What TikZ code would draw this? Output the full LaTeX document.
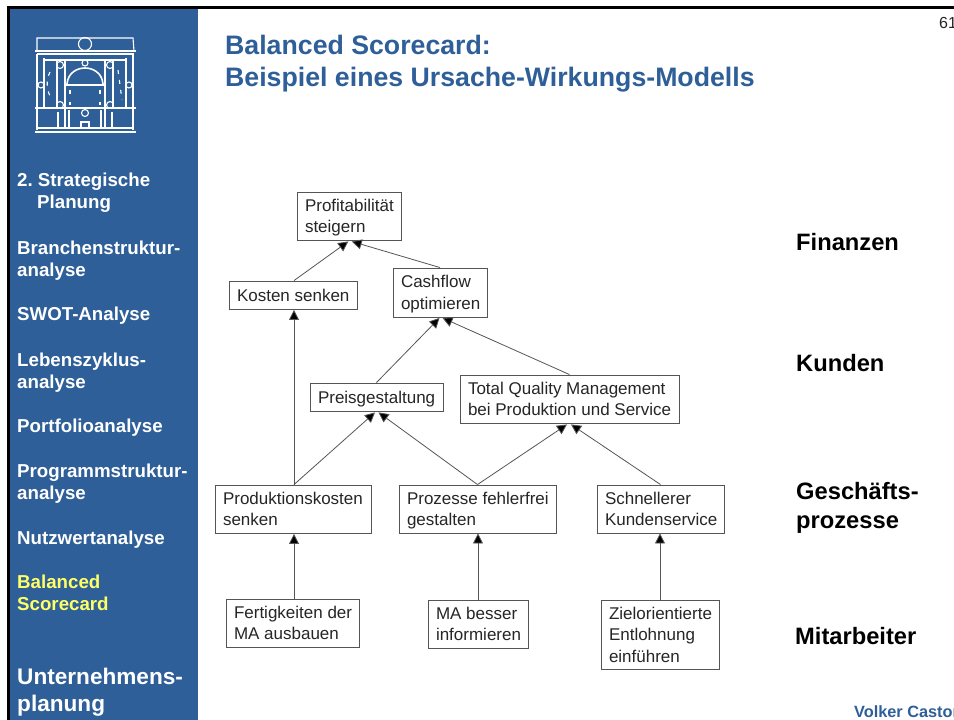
\documentclass[tikz,border=0pt]{standalone}
\usepackage{fontspec}
\setmainfont{Liberation Sans}
\usetikzlibrary{arrows.meta,calc}
\frenchspacing
\definecolor{sidebar}{HTML}{2E5F98}
\definecolor{titleblue}{HTML}{2E5F98}
\definecolor{edgegray}{HTML}{555555}
\newcommand{\bx}[7]{\node[boxnode,minimum width=#4*1pt,minimum height=#5*1pt] (#1) at ({#2+#4/2},{#3+#5/2}) {\makebox[\dimexpr#4pt-2\dimexpr#6pt\relax\relax][l]{\raisebox{-1.7pt}[\height][\depth]{\begin{tabular}{@{}l@{}}#7\end{tabular}}}};}
\tikzset{
  boxnode/.style={draw=edgegray,line width=0.9pt,fill=white,inner xsep=0pt,inner ysep=0pt,font=\fontsize{17}{21.5}\selectfont,text=black!85},
  conn/.style={draw=edgegray,line width=0.8pt,-{Triangle[length=10pt,width=10pt,fill=black]}},
  sidetext/.style={anchor=west,align=left,text=white,text depth=0pt,font=\fontsize{18.7}{22}\selectfont\bfseries,inner sep=0pt},
  catlabel/.style={anchor=west,align=left,text=black,font=\fontsize{23.7}{29}\selectfont\bfseries,inner sep=0pt},
  logoline/.style={draw=white,line width=1.1pt},
  logothick/.style={draw=white,line width=1.6pt},
}
\begin{document}
\begin{tikzpicture}[x=1pt,y=-1pt]
\useasboundingbox (0,0) rectangle (954,720);
\fill[white] (0,0) rectangle (954,720);
\fill[sidebar] (8,8) rectangle (198,720);
\fill[black] (7,6) rectangle (954,8.5);
\fill[black] (7,6) rectangle (9.5,720);
% logo
\draw[logoline] (37,38) -- (133,38) -- (134,51) -- (37,51) -- cycle;
\draw[logothick] (35,51) -- (136,51) (37,54) -- (134,54);
\draw[logoline] (85,44) circle (6.5);
\draw[logoline] (37,54) -- (37,108) (44,58) -- (44,108) (126,58) -- (126,108) (133,54) -- (133,108);
\draw[logoline] (44,60) -- (126,60);
\draw[logothick] (65,60) -- (65,129) (105,60) -- (105,129);
\draw[logoline] (57,60) -- (57,108) (113,60) -- (113,108);
\draw[logothick] (67,84) .. controls (68,72) and (78,68) .. (85,68) .. controls (92,68) and (102,72) .. (103,84);
\draw[logothick] (66,85) -- (104,85);
\draw[logoline] (60,65) circle (3.5) (110,65) circle (3.5) (60,105) circle (3.5) (110,105) circle (3.5) (85,63) circle (3) (41,85) circle (3) (129,85) circle (3);
\draw[logothick] (35,108) -- (136,108);
\draw[logoline] (37,108) -- (37,130) (133,108) -- (133,130) (58,112) -- (58,129) (112,112) -- (112,129) (69,110) -- (69,129) (101,110) -- (101,129);
\draw[logoline] (85,113) circle (3.5);
\draw[logoline] (81,129) -- (81,122) -- (89,122) -- (89,129);
\draw[logothick] (35,132) -- (136,132);
\draw[logoline] (37,128) -- (133,128);
\draw[logoline,dash pattern=on 4pt off 6pt] (50,72) .. controls (46,80) and (46,90) .. (52,100);
\draw[logoline,dash pattern=on 4pt off 6pt] (118,70) -- (122,100);
\draw[logoline,dash pattern=on 4pt off 8pt] (70,90) -- (70,105) (100,90) -- (100,105);
% sidebar text
\node[sidetext] (s1) at (17,191) {2. Strategische\\\hspace*{20pt}Planung};
\node[sidetext] (s2) at (17,259) {Branchenstruktur-\\analyse};
\node[sidetext] (s3) at (17,314) {SWOT-Analyse};
\node[sidetext] (s4) at (17,371) {Lebenszyklus-\\analyse};
\node[sidetext] (s5) at (17,426) {Portfolioanalyse};
\node[sidetext] (s6) at (17,482) {Programmstruktur-\\analyse};
\node[sidetext] (s7) at (17,538) {Nutzwertanalyse};
\node[sidetext,text={rgb,255:red,255;green,255;blue,102}] (s8) at (17,593) {Balanced\\Scorecard};
\node[sidetext,font=\fontsize{22.6}{27}\selectfont\bfseries] (s9) at (17,689.5) {Unternehmens-\\planung};
% title
\node[anchor=west,align=left,inner sep=0pt,text depth=0pt,text=titleblue,font=\fontsize{26.7}{32}\selectfont\bfseries] (title) at (225,61) {Balanced Scorecard:\\Beispiel eines Ursache-Wirkungs-Modells};
\node[anchor=west,inner sep=0pt,font=\fontsize{16}{18}\selectfont,text=black!85] (page) at (939,23) {61};
\node[anchor=west,inner sep=0pt,text=titleblue,font=\fontsize{16.3}{18}\selectfont\bfseries] (author) at (854,712) {Volker Castor};
% boxes
\bx{profit}{297}{192}{104}{48}{8}{Profitabilität\\steigern}
\bx{kosten}{229}{281}{128}{28}{8}{Kosten senken}
\bx{cash}{393}{268}{94}{49}{8}{Cashflow\\optimieren}
\bx{preis}{310}{383}{133}{28}{8}{Preisgestaltung}
\bx{tqm}{460}{375}{219}{48}{8}{Total Quality Management\\bei Produktion und Service}
\bx{prod}{215}{485}{156}{48}{8}{Produktionskosten\\senken}
\bx{proz}{399}{485}{157}{48}{8}{Prozesse fehlerfrei\\gestalten}
\bx{schnell}{597}{485}{127}{48}{8}{Schnellerer\\Kundenservice}
\bx{fert}{226}{599}{133}{48}{8}{Fertigkeiten der\\MA ausbauen}
\bx{ma}{428}{600}{100}{48}{8}{MA besser\\informieren}
\bx{ziel}{601}{600}{118}{69}{8}{Zielorientierte\\Entlohnung\\einführen}
% categories
\node[catlabel] (c1) at (796,242) {Finanzen};
\node[catlabel] (c2) at (796,363) {Kunden};
\node[catlabel] (c3) at (796,507.5) {Geschäfts-\\prozesse};
\node[catlabel] (c4) at (795,636) {Mitarbeiter};
% connectors
\draw[conn] ($(kosten.north)+(1,0)$) -- ($(profit.south)+(-0.7,1)$);
\draw[conn] (cash.north) -- ($(profit.south)+(2.7,1)$);
\draw[conn] ($(prod.north)+(1,0)$) -- ($(kosten.south)+(1,0.5)$);
\draw[conn] (preis.north) -- ($(cash.south)+(-0.5,0.5)$);
\draw[conn] (tqm.north) -- ($(cash.south)+(2.5,0.5)$);
\draw[conn] ($(prod.north)+(1,0)$) -- ($(preis.south)+(-1.5,1)$);
\draw[conn] (proz.north) -- ($(preis.south)+(2,1)$);
\draw[conn] (proz.north) -- ($(tqm.south)+(-2.5,1)$);
\draw[conn] (schnell.north) -- ($(tqm.south)+(1.5,1)$);
\draw[conn] ($(fert.north)+(1.5,0)$) -- ($(prod.south)+(1,0.5)$);
\draw[conn] (ma.north) -- (proz.south -| ma.north);
\draw[conn] (ziel.north) -- (schnell.south -| ziel.north);
\end{tikzpicture}
\end{document}
